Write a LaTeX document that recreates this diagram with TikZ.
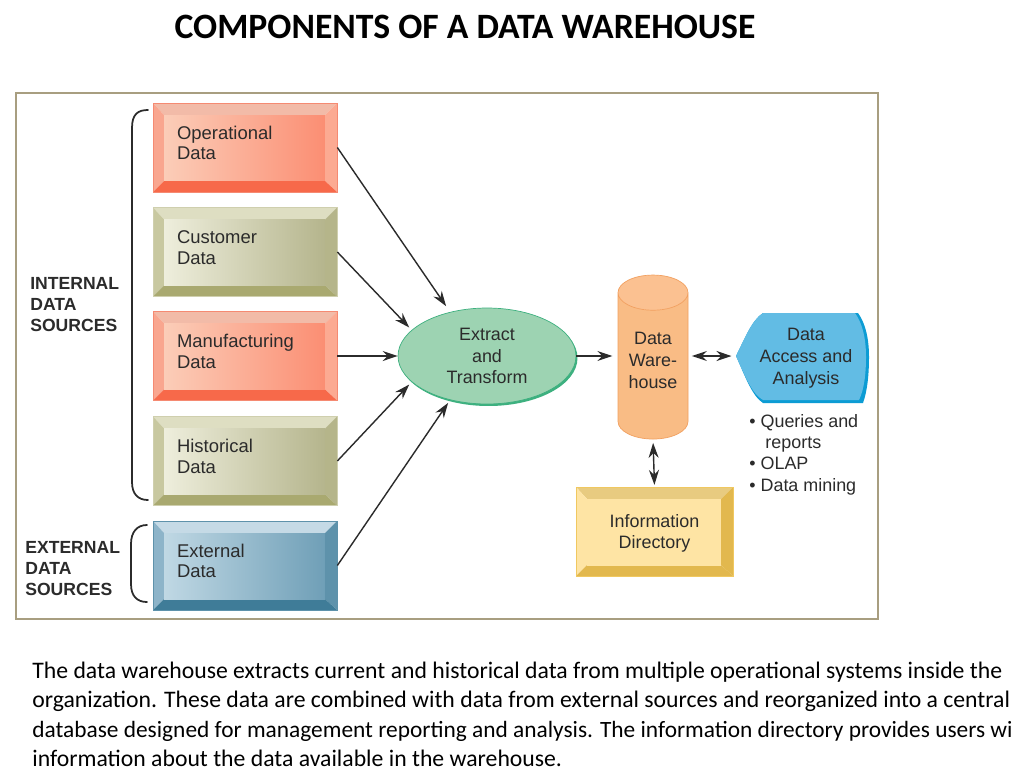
\documentclass[tikz,border=0pt]{standalone}
\usepackage{fontspec}
\setmainfont{Liberation Sans}
\newfontfamily\slidefont{Carlito}
\usetikzlibrary{arrows.meta, calc, shapes.geometric, shadows}

\definecolor{framecol}{HTML}{A89E80}
\definecolor{inkcol}{HTML}{2B2B2B}
\definecolor{redin}{HTML}{FBCDB8}\definecolor{redout}{HTML}{FB8E73}\definecolor{redtop}{HTML}{F2BBA8}
\definecolor{redleft}{HTML}{F9A68F}\definecolor{redright}{HTML}{FCAA92}\definecolor{redbase}{HTML}{F7694A}
\definecolor{rededge}{HTML}{F58A72}
\definecolor{olivein}{HTML}{EEEEDC}\definecolor{oliveout}{HTML}{B5B58D}\definecolor{olivetop}{HTML}{DEDEC2}
\definecolor{oliveleft}{HTML}{C8C8A0}\definecolor{oliveright}{HTML}{B5B58A}\definecolor{olivebase}{HTML}{A9A970}
\definecolor{oliveedge}{HTML}{CFCFAE}
\definecolor{bluein}{HTML}{C0D8E4}\definecolor{blueout}{HTML}{6F9FB7}\definecolor{bluetop}{HTML}{C5DAE6}
\definecolor{blueleft}{HTML}{8DB4C9}\definecolor{blueright}{HTML}{5E92AB}\definecolor{bluebase}{HTML}{3F7C98}
\definecolor{dirin}{HTML}{FEE4A4}\definecolor{dirtop}{HTML}{E8CB80}\definecolor{dirbase}{HTML}{E2B84E}
\definecolor{diredge}{HTML}{F0C860}
\definecolor{etlfill}{HTML}{9DD3B2}\definecolor{etledge}{HTML}{3DB07F}
\definecolor{whbody}{HTML}{F9BC85}\definecolor{whtop}{HTML}{FBC191}\definecolor{whedge}{HTML}{F2A060}
\definecolor{accessfill}{HTML}{62BCE4}\definecolor{accessedge}{HTML}{0C9CD4}

% invisible rules that push a block of lines up or down inside its node
\newcommand{\liftlines}[1]{\rule[-#1]{0pt}{#1}}
\newcommand{\droplines}[1]{\rule{0pt}{#1}}

\begin{document}
\begin{tikzpicture}[
    x=0.02cm, y=-0.02cm,
    every node/.style={font=\fontsize{10.2}{12.4}\selectfont, text=inkcol},
    arrow/.style={-{Stealth[length=3mm, width=2mm]}, thick, color=inkcol},
    twoway/.style={{Stealth[length=3mm, width=2mm]}-{Stealth[length=3mm, width=2mm]}, thick, color=inkcol},
    bracket/.style={line width=1pt, color=inkcol, line cap=round},
    grouplabel/.style={anchor=north west, align=left, inner sep=0pt, font=\fontsize{10}{11.9}\selectfont\bfseries},
    bevelbox/.style n args={7}{
        rectangle, draw=#7, line width=0.4pt, minimum width=3.68cm, minimum height=1.78cm,
        inner xsep=0.48cm, inner ysep=0pt, text width=2.72cm, align=left,
        font=\fontsize{10.5}{11.7}\selectfont,
        path picture={
            \coordinate (nw) at (path picture bounding box.north west);
            \coordinate (se) at (path picture bounding box.south east);
            \coordinate (ne) at (path picture bounding box.north east);
            \coordinate (sw) at (path picture bounding box.south west);
            \coordinate (inw) at ($(nw)+(11,12)$);
            \coordinate (ine) at ($(ne)+(-12,12)$);
            \coordinate (ise) at ($(se)+(-12,-11)$);
            \coordinate (isw) at ($(sw)+(11,-11)$);
            \fill[#3] (nw) -- (ne) -- (ine) -- (inw) -- cycle;
            \fill[#4] (nw) -- (sw) -- (isw) -- (inw) -- cycle;
            \fill[#5] (ne) -- (se) -- (ise) -- (ine) -- cycle;
            \fill[#6] (sw) -- (se) -- (ise) -- (isw) -- cycle;
            \shade[left color=#1, right color=#2] (inw) rectangle (ise);
        }},
    redbox/.style={bevelbox={redin}{redout}{redtop}{redleft}{redright}{redbase}{rededge}},
    olivebox/.style={bevelbox={olivein}{oliveout}{olivetop}{oliveleft}{oliveright}{olivebase}{oliveedge}},
    bluebox/.style={bevelbox={bluein}{blueout}{bluetop}{blueleft}{blueright}{bluebase}{blueright}},
]

\useasboundingbox (0,0) rectangle (1024,768);
\fill[white] (0,0) rectangle (1024,768);

% === TITLE AND FRAME ===
\node[font=\slidefont\fontsize{20.3}{22}\selectfont\bfseries, text=black] (title) at (465,27) {COMPONENTS OF A DATA WAREHOUSE};
\draw[framecol, line width=1.6pt] (16,93) rectangle (878,619);

% === SOURCE BOXES ===
\node[redbox] (operational) at (245,147.5) {Operational\\Data\liftlines{5.1pt}};
\node[olivebox] (customer) at (245,252) {Customer\\Data\liftlines{5.1pt}};
\node[redbox] (manufacturing) at (245,356) {Manufacturing\\Data\liftlines{5.1pt}};
\node[olivebox] (historical) at (245,461) {Historical\\Data\liftlines{5.1pt}};
\node[bluebox] (external) at (245,565.5) {External\\Data\liftlines{5.1pt}};

% === BRACKETS AND GROUP LABELS ===
\draw[bracket] (148,110) .. controls (138,110) and (132,114) .. (132,128) -- (132,482) .. controls (132,494) and (138,500) .. (148,500);
\draw[bracket] (147,525) .. controls (137,525) and (131,532) .. (131,544) -- (131,584) .. controls (131,596) and (137,602) .. (147,602);
\node[grouplabel] (internallabel) at (30,277) {INTERNAL\\DATA\\SOURCES};
\node[grouplabel] (externallabel) at (25,541.5) {EXTERNAL\\DATA\\SOURCES};

% === CENTRE AND RIGHT ===
\node[ellipse, fill=etlfill, draw=etledge, line width=0.4pt, minimum width=3.56cm, minimum height=1.92cm, inner sep=0pt, align=center,
    drop shadow={shadow xshift=0.03cm, shadow yshift=-0.04cm, fill=etledge, opacity=1}] (transform) at (487,356) {Extract\\and\\Transform};

\node[cylinder, shape border rotate=90, aspect=0.72, minimum width=1.4cm, minimum height=3.28cm, inner sep=0pt, align=center,
    cylinder uses custom fill, cylinder body fill=whbody, cylinder end fill=whtop, draw=whedge, line width=0.4pt] (warehouse) at (653,366) {Data\\Ware-\\house\liftlines{6.2pt}};

\fill[accessedge] (736,356) .. controls (745,338) and (752,320) .. (763,313) -- (858,313) .. controls (866,324) and (869,340) .. (869,357) .. controls (869,376) and (867,392) .. (863,403) -- (763,403) .. controls (752,396) and (745,376) .. (736,356) -- cycle;
\fill[accessfill] (736,356) .. controls (745,338) and (752,320) .. (763,313) -- (855,313) .. controls (863,324) and (866,340) .. (866,357) .. controls (866,374) and (864,390) .. (859,400) -- (763,400) .. controls (752,394) and (745,376) .. (736,356) -- cycle;
\coordinate (accesstip) at (735,356);
\node[align=center] (access) at (806,358) {Data\\Access and\\Analysis};

\node[anchor=north west, align=left, inner sep=0pt, font=\fontsize{10.2}{12.1}\selectfont] (uses) at (749,414)
    {\textbullet\ Queries and\\\hspace*{0.9em}reports\\\textbullet\ OLAP\\\textbullet\ Data mining};

\node[bevelbox={dirin}{dirin}{dirtop}{dirin}{dirbase}{dirbase}{diredge}, minimum width=3.14cm, text width=2.9cm, inner xsep=0.12cm, align=center, font=\fontsize{10.2}{11.9}\selectfont] (directory) at (654.5,531.5) {\droplines{9pt}Information\\Directory};

% === ARROWS ===
\draw[arrow, shorten >=4pt] (operational.east) -- (transform.130);
\draw[arrow, shorten >=2pt] (customer.east) -- (transform.161);
\draw[arrow] (manufacturing.east) -- (transform.west);
\draw[arrow, shorten >=2pt] (historical.east) -- (transform.199);
\draw[arrow, shorten >=2pt] (external.east) -- (transform.230);
\draw[arrow, shorten >=3pt] (transform.east) -- (transform.east -| warehouse.west);
\draw[twoway, shorten <=2pt, shorten >=2pt] (warehouse.east |- accesstip) -- (accesstip);
\draw[twoway, shorten <=2pt, shorten >=1pt] (warehouse.south) -- (directory.north);

% === CAPTION ===
\node[anchor=north west, align=left, inner sep=0pt, text=black, font=\slidefont\fontsize{13.5}{16.6}\selectfont] (caption) at (32,662)
    {\frenchspacing The data warehouse extracts current and historical data from multiple operational systems inside the\\
     organization. These data are combined with data from external sources and reorganized into a central\\
     {\fontsize{13.3}{16.6}\selectfont database designed for management reporting and analysis. The information directory provides users wi}\\
     information about the data available in the warehouse.};

\end{tikzpicture}
\end{document}
